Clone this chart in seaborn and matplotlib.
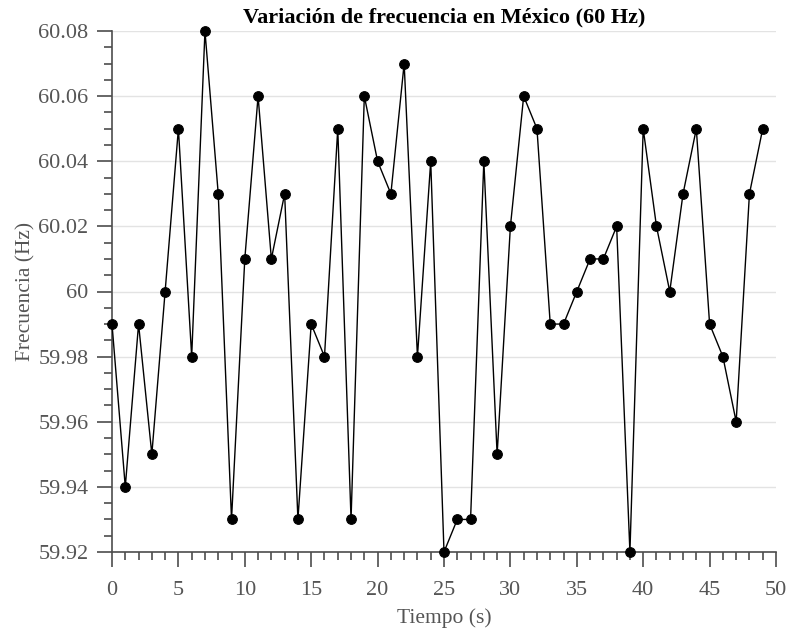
import numpy as np
import pandas as pd
import seaborn as sns
import matplotlib.pyplot as plt
from matplotlib.ticker import MultipleLocator, FuncFormatter

# Data
tiempo = list(range(50))
frecuencia = [59.99, 59.94, 59.99, 59.95, 60.00, 60.05, 59.98, 60.08, 60.03, 59.93,
              60.01, 60.06, 60.01, 60.03, 59.93, 59.99, 59.98, 60.05, 59.93, 60.06,
              60.04, 60.03, 60.07, 59.98, 60.04, 59.92, 59.93, 59.93, 60.04, 59.95,
              60.02, 60.06, 60.05, 59.99, 59.99, 60.00, 60.01, 60.01, 60.02, 59.92,
              60.05, 60.02, 60.00, 60.03, 60.05, 59.99, 59.98, 59.96, 60.03, 60.05]

df = pd.DataFrame({'Tiempo': tiempo, 'Frecuencia': frecuencia})

sns.set_style('white')
plt.rcParams['font.family'] = ['Liberation Serif', 'DejaVu Serif']

fig = plt.figure(figsize=(7.88, 6.3), dpi=100)
ax = fig.add_axes([112 / 788, 1 - 552 / 630, (776 - 112) / 788, (552 - 31) / 630])

sns.lineplot(data=df, x='Tiempo', y='Frecuencia', ax=ax, color='black',
             linewidth=1.0, marker='o', markersize=7, markeredgecolor='black',
             clip_on=False, zorder=5)

ax.set_xlim(0, 50)
ax.set_ylim(59.92, 60.08)
ax.xaxis.set_major_locator(MultipleLocator(5))
ax.xaxis.set_minor_locator(MultipleLocator(1))
ax.yaxis.set_major_locator(MultipleLocator(0.02))
ax.yaxis.set_minor_locator(MultipleLocator(0.005))
ax.yaxis.set_major_formatter(FuncFormatter(lambda v, p: f'{v:.2f}'.rstrip('0').rstrip('.')))

axis_color = '#4d4d4d'
ax.grid(True, axis='y', which='major', color='#e3e3e3', linewidth=1)
ax.set_axisbelow(True)
for s in ['top', 'right']:
    ax.spines[s].set_visible(False)
for s in ['left', 'bottom']:
    ax.spines[s].set_color(axis_color)
    ax.spines[s].set_linewidth(1.2)
ax.tick_params(which='major', direction='out', length=11, width=1.2, color=axis_color,
               labelsize=16, labelcolor='#555555', pad=6)
ax.tick_params(which='minor', direction='out', length=6, width=1.2, color=axis_color)
ax.tick_params(axis='x', which='major', pad=10)
ax.tick_params(axis='x', which='both', bottom=True)
ax.tick_params(axis='y', which='both', left=True)

ax.set_xlabel('Tiempo (s)', fontsize=15.5, color='#555555', labelpad=6)
ax.set_ylabel('Frecuencia (Hz)', fontsize=15.5, color='#555555', labelpad=2)
ax.set_title('Variación de frecuencia en México (60 Hz)', fontsize=16,
             fontweight='bold', color='black', pad=6)

fig.savefig('out.png', dpi=100)
